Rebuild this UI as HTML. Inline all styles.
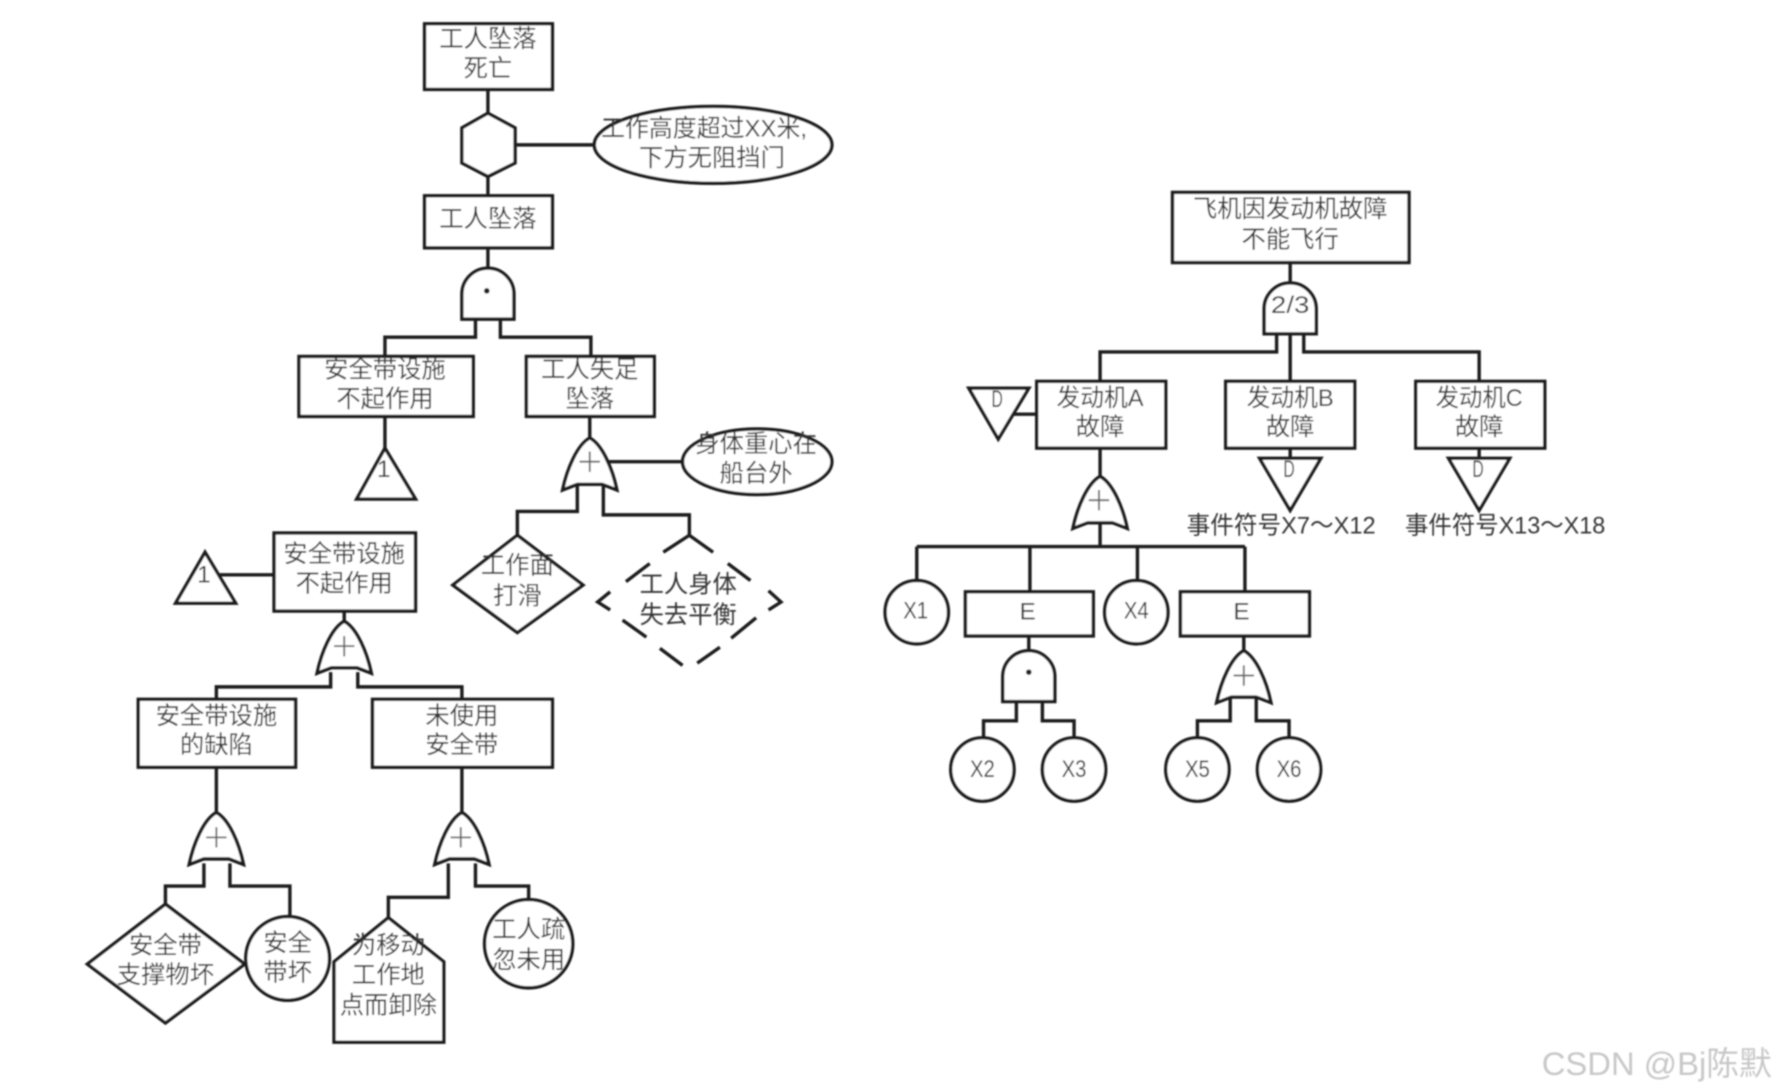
<!DOCTYPE html>
<html><head><meta charset="utf-8"><style>
html,body{margin:0;padding:0;background:#fff;width:1772px;height:1092px;overflow:hidden}
svg{display:block}
text{font-family:"Liberation Sans","Noto Sans CJK SC",sans-serif;text-anchor:middle;dominant-baseline:central;fill:#363636;font-size:21.5px}
.s{fill:none;stroke:#1c1c1c;stroke-width:3}
.w{fill:#fff;stroke:#1c1c1c;stroke-width:3}
</style></head><body>
<svg width="1772" height="1092" viewBox="0 0 1566 965" xmlns="http://www.w3.org/2000/svg">
<defs>
<filter id="b" x="-2%" y="-2%" width="104%" height="104%"><feGaussianBlur stdDeviation="0.65"/></filter>
<path id="or" d="M0,0 C11,6 20,27 24,46 Q14,42 11,41 L-11,41 Q-14,42 -24,46 C-20,27 -11,6 0,0 Z"/>
<path id="and" d="M-23,45 L-23,23 A23,23 0 0 1 23,23 L23,45 Z"/>
</defs>
<g filter="url(#b)" transform="translate(-0.8,0)">
<!-- Left tree -->
<path class="s" d="M432,79V100M432,155V173M450,128H526M432,219V238M421,282V298H341V315M443,282V298H523V315M341,368V397M522,368V388M530,408H604M511,428V452H458V473M534,428V455H610V473"/>
<rect class="w" x="376" y="21" width="113" height="58"/>
<polygon class="w" points="432,100 456,113 456,144 432,156 409,144 409,113"/>
<ellipse class="w" cx="631" cy="128" rx="105" ry="34"/>
<rect class="w" x="376" y="173" width="113" height="46"/>
<use href="#and" class="w" x="432" y="237"/>
<circle cx="431" cy="257" r="2.5" fill="#222"/>
<rect class="w" x="265" y="315" width="154" height="53"/>
<rect class="w" x="466" y="315" width="113" height="53"/>
<polygon class="w" points="341,396 368,441 316,441"/>
<use href="#or" class="w" x="522" y="387"/>
<ellipse class="w" cx="670" cy="408" rx="66" ry="29"/>
<polygon class="w" points="458,473 516,517 458,559 401,517"/>
<path class="s" d="M587,488L610,473L631,488M554,514L575,498M644,498L664,513M540,523L529,532L540,539M680,522L691,532L680,539M551,548L572,563M647,564L669,546M584,573L604,588M617,586L637,572"/>
<path class="s" d="M195,508H243M305,540V550M293,594V607H192V618M317,594V607H409V618M192,678V718M409,678V718M181,763V783H147V799M204,763V783H257V810M397,763V793H344V811M421,763V783H468V795"/>
<polygon class="w" points="182,488 209,533 156,533"/>
<rect class="w" x="243" y="471" width="125" height="69"/>
<use href="#or" class="w" x="305" y="549"/>
<rect class="w" x="123" y="618" width="139" height="60"/>
<rect class="w" x="330" y="618" width="159" height="60"/>
<use href="#or" class="w" x="192" y="718"/>
<use href="#or" class="w" x="409" y="718"/>
<polygon class="w" points="147,799 217,852 147,904 78,852"/>
<circle class="w" cx="255" cy="847" r="37"/>
<polygon class="w" points="344,811 393,850 393,921 296,921 296,850"/>
<circle class="w" cx="468" cy="834" r="39"/>
<!-- Right tree -->
<path class="s" d="M1141,232V250M1129,295V311H973V337M1141,295V337M1153,295V311H1308V337M893,366H917M1141,396V405M1308,396V405M973,396V421M973,460V483M811,483H1101M811,483V513M911,483V523M1006,483V513M1101,483V523M910,562V575M1100,562V575M899,621V637H870V653M922,621V637H950V653M1088,616V637H1059V653M1111,616V637H1140V653"/>
<rect class="w" x="1037" y="170" width="209" height="62"/>
<use href="#and" class="w" x="1141" y="250"/>
<rect class="w" x="917" y="337" width="114" height="59"/>
<rect class="w" x="1084" y="337" width="114" height="59"/>
<rect class="w" x="1252" y="337" width="114" height="59"/>
<polygon class="w" points="857,343 910,343 883,388"/>
<polygon class="w" points="1114,405 1168,405 1141,451"/>
<polygon class="w" points="1281,405 1335,405 1308,451"/>
<use href="#or" class="w" x="973" y="421"/>
<circle class="w" cx="811" cy="541" r="28"/>
<rect class="w" x="854" y="523" width="113" height="39"/>
<circle class="w" cx="1005" cy="541" r="28"/>
<rect class="w" x="1044" y="523" width="114" height="39"/>
<use href="#and" class="w" x="910" y="575"/>
<circle cx="910" cy="594" r="2.5" fill="#222"/>
<use href="#or" class="w" x="1100" y="575"/>
<circle class="w" cx="869" cy="680" r="28"/>
<circle class="w" cx="950" cy="680" r="28"/>
<circle class="w" cx="1059" cy="680" r="28"/>
<circle class="w" cx="1140" cy="680" r="28"/>
<!-- plus signs -->
<path d="M513,408H531M522,399V417M296,571H314M305,562V580M183,740H201M192,731V749M399,740H417M408,731V749M963,442H981M972,433V451M1091,597H1109M1100,588V606" fill="none" stroke="#666" stroke-width="1.6"/>
<!-- Text -->
<text x="432" y="35">工人坠落</text><text x="432" y="61">死亡</text>
<text x="623" y="114" textLength="182" lengthAdjust="spacingAndGlyphs">工作高度超过XX米,</text><text x="630" y="140">下方无阻挡门</text>
<text x="432" y="194">工人坠落</text>
<text x="341" y="327">安全带设施</text><text x="341" y="353">不起作用</text>
<text x="522" y="327">工人失足</text><text x="522" y="353">坠落</text>
<text x="340" y="415" font-size="17">1</text>
<text x="669" y="393">身体重心在</text><text x="669" y="419">船台外</text>
<text x="458" y="500">工作面</text><text x="458" y="527">打滑</text>
<text x="609" y="517">工人身体</text><text x="609" y="544">失去平衡</text>
<text x="181" y="508" font-size="17">1</text>
<text x="305" y="490">安全带设施</text><text x="305" y="516">不起作用</text>
<text x="192" y="633">安全带设施</text><text x="192" y="659">的缺陷</text>
<text x="409" y="633">未使用</text><text x="409" y="659">安全带</text>
<text x="147" y="836">安全带</text><text x="147" y="862">支撑物坏</text>
<text x="255" y="834">安全</text><text x="255" y="860">带坏</text>
<text x="344" y="836">为移动</text><text x="344" y="862">工作地</text><text x="344" y="889">点而卸除</text>
<text x="468" y="822">工人疏</text><text x="468" y="849">忽未用</text>
<text x="1141" y="185">飞机因发动机故障</text><text x="1141" y="212">不能飞行</text>
<text x="1141" y="270" font-size="20" textLength="34" lengthAdjust="spacingAndGlyphs">2/3</text>
<text x="973" y="352" textLength="77" lengthAdjust="spacingAndGlyphs">发动机A</text><text x="973" y="378">故障</text>
<text x="1141" y="352" textLength="77" lengthAdjust="spacingAndGlyphs">发动机B</text><text x="1141" y="378">故障</text>
<text x="1308" y="352" textLength="77" lengthAdjust="spacingAndGlyphs">发动机C</text><text x="1308" y="378">故障</text>
<text x="882" y="353" font-size="17" textLength="10" lengthAdjust="spacingAndGlyphs">D</text><text x="1140" y="415" font-size="17" textLength="10" lengthAdjust="spacingAndGlyphs">D</text><text x="1307" y="415" font-size="17" textLength="10" lengthAdjust="spacingAndGlyphs">D</text>
<text x="1133" y="465" textLength="167" lengthAdjust="spacingAndGlyphs">事件符号X7～X12</text>
<text x="1331" y="465" textLength="177" lengthAdjust="spacingAndGlyphs">事件符号X13～X18</text>
<text x="810" y="540" font-size="19" textLength="22" lengthAdjust="spacingAndGlyphs">X1</text>
<text x="909" y="541" font-size="19">E</text>
<text x="1005" y="540" font-size="19" textLength="22" lengthAdjust="spacingAndGlyphs">X4</text>
<text x="1098" y="541" font-size="19">E</text>
<text x="869" y="680" font-size="19" textLength="22" lengthAdjust="spacingAndGlyphs">X2</text>
<text x="950" y="680" font-size="19" textLength="22" lengthAdjust="spacingAndGlyphs">X3</text>
<text x="1059" y="680" font-size="19" textLength="22" lengthAdjust="spacingAndGlyphs">X5</text>
<text x="1140" y="680" font-size="19" textLength="22" lengthAdjust="spacingAndGlyphs">X6</text>
<text x="1465" y="940" font-size="29" style="fill:#c8c8c8;font-size:29px">CSDN @Bj陈默</text>
</g>
</svg>
</body></html>
